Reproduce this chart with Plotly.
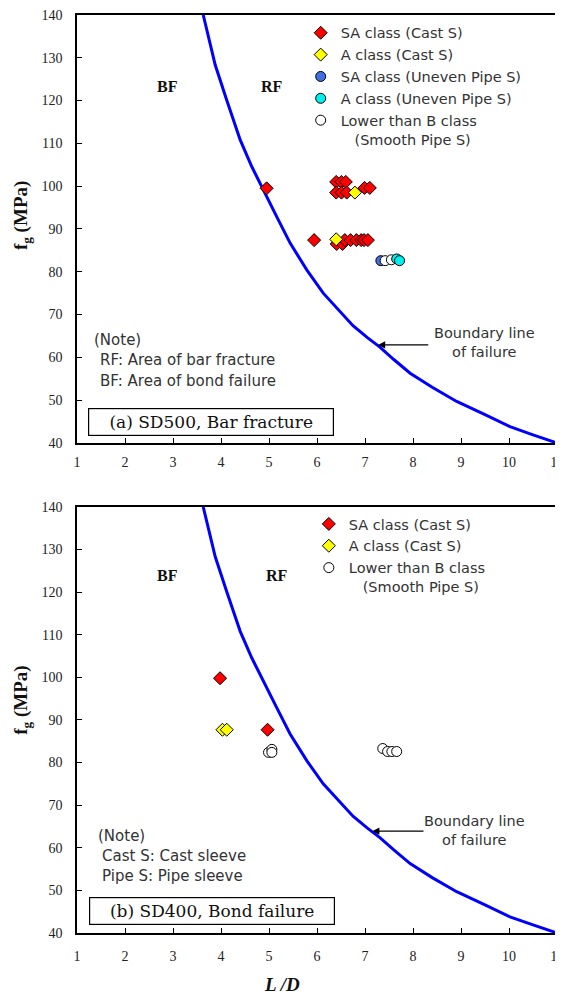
import plotly.graph_objects as go

# ---------------- data ----------------
curve_x = [3.63, 3.88, 4.12, 4.40, 4.64, 4.88, 5.16, 5.44, 5.79, 6.13, 6.44, 6.75, 7.05, 7.31,
           7.60, 7.94, 8.40, 8.91, 9.50, 10.02, 10.50, 11.0]
curve_y = [140.0, 128.3, 120.1, 110.8, 104.6, 99.1, 92.9, 86.7, 80.4, 75.0, 71.1, 67.4, 64.6, 62.4,
           59.5, 56.3, 53.0, 49.7, 46.6, 43.8, 41.9, 40.0]

# (a) SD500
a_sa_cast_x = [4.95, 6.40, 6.51, 6.60, 6.40, 6.51, 6.62, 6.99, 7.10,
               5.94, 6.41, 6.53, 6.58, 6.70, 6.82, 6.92, 6.98, 7.06]
a_sa_cast_y = [99.5, 101.0, 101.0, 101.0, 98.5, 98.5, 98.5, 99.6, 99.6,
               87.4, 86.5, 86.5, 87.4, 87.4, 87.4, 87.4, 87.4, 87.4]
a_a_cast_x = [6.79, 6.40]
a_a_cast_y = [98.5, 87.6]
a_sa_uneven_x = [7.33]
a_sa_uneven_y = [82.6]
a_lower_b_x = [7.42, 7.55]
a_lower_b_y = [82.6, 82.8]
a_a_uneven_x = [7.66, 7.72]
a_a_uneven_y = [83.0, 82.6]

# (b) SD400
b_sa_cast_x = [3.98, 4.97]
b_sa_cast_y = [99.8, 87.7]
b_a_cast_x = [4.03, 4.12]
b_a_cast_y = [87.7, 87.7]
b_lower_b_x = [4.99, 5.06, 5.06, 7.37, 7.47, 7.56, 7.66]
b_lower_b_y = [82.4, 83.1, 82.4, 83.3, 82.6, 82.6, 82.6]

x_ticks = list(range(1, 12))
y_ticks = list(range(40, 150, 10))

# ---------------- styling ----------------
SERIF = "Liberation Serif"
SANS = "DejaVu Sans"
TXT = "#333333"
RED = "#FF0000"
YEL = "#FFFF00"
BLUE = "#3F6FE0"
CYAN = "#00F0F0"

lg_name_sa = "SA class (Cast S)"
lg_name_a = "A class (Cast S)"
lg_name_sau = "SA class (Uneven Pipe S)"
lg_name_au = "A class (Uneven Pipe S)"
lg_name_b = "Lower than B class<br>\u00a0\u00a0\u00a0(Smooth Pipe S)"

fig = go.Figure()


def diamond(x, y, color, name, xa, ya, legend, rank):
    return go.Scatter(x=x, y=y, mode="markers", name=name, xaxis=xa, yaxis=ya, legend=legend,
                      legendrank=rank,
                      marker=dict(symbol="diamond", size=10, color=color,
                                  line=dict(color="black", width=1)))


def circle(x, y, color, name, xa, ya, legend, rank):
    return go.Scatter(x=x, y=y, mode="markers", name=name, xaxis=xa, yaxis=ya, legend=legend,
                      legendrank=rank,
                      marker=dict(symbol="circle", size=10, color=color,
                                  line=dict(color="black", width=1)))


# top panel
fig.add_trace(go.Scatter(x=curve_x, y=curve_y, mode="lines", line=dict(color="#0000FF", width=3),
                         showlegend=False, xaxis="x", yaxis="y"))
fig.add_trace(diamond(a_sa_cast_x, a_sa_cast_y, RED, lg_name_sa, "x", "y", "legend", 1))
fig.add_trace(diamond(a_a_cast_x, a_a_cast_y, YEL, lg_name_a, "x", "y", "legend", 2))
fig.add_trace(circle(a_sa_uneven_x, a_sa_uneven_y, BLUE, lg_name_sau, "x", "y", "legend", 3))
fig.add_trace(circle(a_lower_b_x, a_lower_b_y, "white", lg_name_b, "x", "y", "legend", 5))
fig.add_trace(circle(a_a_uneven_x, a_a_uneven_y, CYAN, lg_name_au, "x", "y", "legend", 4))

# bottom panel
fig.add_trace(go.Scatter(x=curve_x, y=curve_y, mode="lines", line=dict(color="#0000FF", width=3),
                         showlegend=False, xaxis="x2", yaxis="y2"))
fig.add_trace(diamond(b_sa_cast_x, b_sa_cast_y, RED, lg_name_sa, "x2", "y2", "legend2", 1))
fig.add_trace(diamond(b_a_cast_x, b_a_cast_y, YEL, lg_name_a, "x2", "y2", "legend2", 2))
fig.add_trace(circle(b_lower_b_x, b_lower_b_y, "white", lg_name_b, "x2", "y2", "legend2", 3))

axis_common = dict(showgrid=False, zeroline=False, showline=True, linecolor="black", linewidth=1.5,
                   mirror=True, ticks="inside", ticklen=5, tickwidth=1.2, tickcolor="black",
                   automargin=False, ticklabeloverflow="allow",
                   tickfont=dict(family=SERIF, size=14, color="#222222"))

fig.update_layout(
    width=555, height=990,
    margin=dict(l=69, r=6, t=7, b=65),
    plot_bgcolor="white", paper_bgcolor="white",
    xaxis=dict(domain=[0, 1], anchor="y", range=[1, 11], tickvals=x_ticks, ticklabelstandoff=5,
               **axis_common),
    yaxis=dict(domain=[0.5338, 1], anchor="x", range=[40, 140], tickvals=y_ticks,
               ticklabelstandoff=10, **axis_common),
    xaxis2=dict(domain=[0, 1], anchor="y2", range=[1, 11], tickvals=x_ticks, ticklabelstandoff=9,
                **axis_common),
    yaxis2=dict(domain=[0, 0.4641], anchor="x2", range=[40, 140], tickvals=y_ticks,
                ticklabelstandoff=10, **axis_common),
    legend=dict(x=0.466, y=0.998, xanchor="left", yanchor="top", bgcolor="rgba(0,0,0,0)",
                font=dict(family=SANS, size=14.5, color=TXT), valign="top", tracegroupgap=0),
    legend2=dict(x=0.483, y=0.463, xanchor="left", yanchor="top", bgcolor="rgba(0,0,0,0)",
                 font=dict(family=SANS, size=14.5, color=TXT), valign="top", tracegroupgap=0),
)

ann = []


def txt(x, y, text, xr, yr, size=15, family=SANS, color=TXT, xanchor="left", align="left",
        angle=0):
    ann.append(dict(x=x, y=y, xref=xr, yref=yr, text=text, showarrow=False, xanchor=xanchor,
                    yanchor="middle", align=align, textangle=angle,
                    font=dict(family=family, size=size, color=color)))


# axis titles
txt(-0.1146, 0.782, "<b>f<sub>g</sub> (MPa)</b>", "paper", "paper", size=19, family=SERIF,
    color="#111111", xanchor="center", align="center", angle=-90)
txt(-0.1146, 0.254, "<b>f<sub>g</sub> (MPa)</b>", "paper", "paper", size=19, family=SERIF,
    color="#111111", xanchor="center", align="center", angle=-90)
txt(0.427, -0.0566, "<b><i>L /D</i></b>", "paper", "paper", size=19, family=SERIF,
    color="#111111", xanchor="center", align="center")

for xr, yr, yb, xr_rf in (("x", "y", 123.2, 5.06), ("x2", "y2", 124.0, 5.17)):
    txt(2.875, yb, "<b>BF</b>", xr, yr, size=16, family=SERIF, color="#111111", xanchor="center")
    txt(xr_rf, yb, "<b>RF</b>", xr, yr, size=16, family=SERIF, color="#111111", xanchor="center")

# notes (a)
txt(1.31, 64.1, "(Note)", "x", "y")
txt(1.43, 59.4, "RF: Area of bar fracture", "x", "y")
txt(1.43, 54.5, "BF: Area of bond failure", "x", "y")
# notes (b)
txt(1.39, 62.8, "(Note)", "x2", "y2")
txt(1.48, 58.1, "Cast S: Cast sleeve", "x2", "y2")
txt(1.48, 53.4, "Pipe S: Pipe sleeve", "x2", "y2")

# boundary labels + arrows
txt(9.48, 63.4, "Boundary line<br>of failure", "x", "y", size=14.5, xanchor="center",
    align="center")
txt(9.29, 64.1, "Boundary line<br>of failure", "x2", "y2", size=14.5, xanchor="center",
    align="center")
for xr, yr, tipx, tailx, yy in (("x", "y", 7.27, 8.35, 62.9), ("x2", "y2", 7.15, 8.25, 63.9)):
    ann.append(dict(x=tipx, y=yy, ax=tailx, ay=yy, xref=xr, yref=yr, axref=xr, ayref=yr, text="",
                    showarrow=True, arrowhead=2, arrowsize=1.2, arrowwidth=1.2,
                    arrowcolor="black"))

# panel labels
for xr, yr, cx, cy, label in (("x", "y", 3.79, 44.9, "(a) SD500, Bar fracture"),
                              ("x2", "y2", 3.81, 45.05, "(b) SD400, Bond failure")):
    ann.append(dict(x=cx, y=cy, xref=xr, yref=yr, text=label, showarrow=False,
                    xanchor="center", yanchor="middle", width=242, height=24, borderpad=1,
                    bordercolor="black", borderwidth=1.2, bgcolor="white",
                    font=dict(family="DejaVu Serif", size=17, color="#111111")))

fig.update_layout(annotations=ann)
fig.write_html("out.html")
